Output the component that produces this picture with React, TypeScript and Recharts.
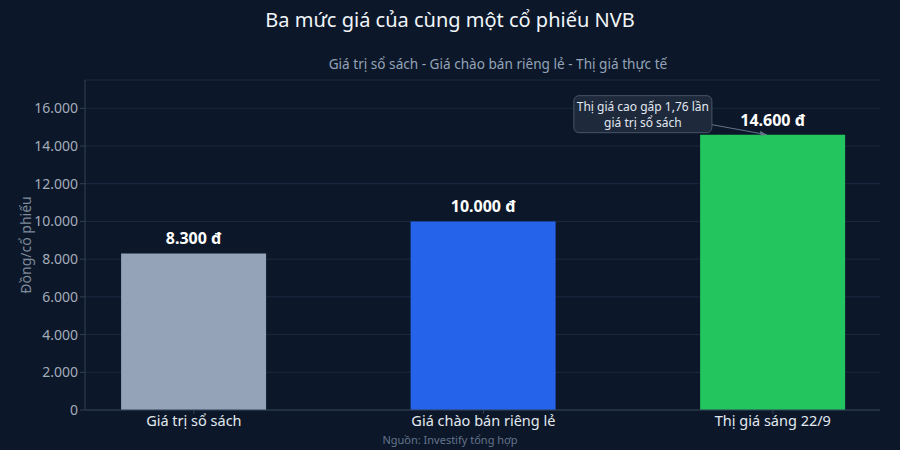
import { BarChart, Bar, XAxis, YAxis, CartesianGrid, LabelList, ReferenceDot, Cell } from "recharts";

const categories = ["Giá trị sổ sách", "Giá chào bán riêng lẻ", "Thị giá sáng 22/9"];
const prices = [8300, 10000, 14600];
const barColors = ["#94a3b8", "#2563eb", "#22c55e"];
const yTicks = [0, 2000, 4000, 6000, 8000, 10000, 12000, 14000, 16000];
const noteLines = ["Thị giá cao gấp 1,76 lần", "giá trị sổ sách"];

const BG = "#0c1829";
const FONT = "'Noto Sans', 'Open Sans', sans-serif";

const fmt = (v: number) => String(v).replace(/\B(?=(\d{3})+(?!\d))/g, ".");

const data = categories.map((c, i) => ({ idx: i, name: c, price: prices[i] }));

function Note(props: any) {
  const { cx, cy } = props;
  if (cx == null || cy == null) return null;
  const tipX = cx - 6;
  const tipY = cy;
  const bx = cx - 199;
  const by = cy - 39;
  const bw = 138;
  const bh = 37;
  return (
    <g>
      <line x1={bx + bw} y1={by + bh - 8} x2={tipX} y2={tipY} stroke="#64748b" strokeWidth={1} />
      <path d={`M${tipX} ${tipY} l-7 -4 l1 5 z`} fill="#64748b" />
      <rect x={bx} y={by} width={bw} height={bh} rx={5} fill="#1e293b" stroke="#475569" strokeWidth={1} />
      {noteLines.map((t, i) => (
        <text key={i} x={bx + bw / 2} y={by + 15 + i * 16} textAnchor="middle" fill="#e2e8f0" fontSize={12} fontFamily={FONT}>
          {t}
        </text>
      ))}
    </g>
  );
}

export default function App() {
  return (
    <div style={{ position: "relative", width: 900, height: 450, background: BG, fontFamily: FONT }}>
      <style>{"body{margin:0;background:" + BG + "}"}</style>
      <div style={{ position: "absolute", top: 6, width: 900, textAlign: "center", color: "#f1f5f9", fontSize: 20 }}>
        Ba mức giá của cùng một cổ phiếu NVB
      </div>
      <div style={{ position: "absolute", top: 54, left: 48, width: 900, textAlign: "center", color: "#94a3b8", fontSize: 13.6 }}>
        Giá trị sổ sách - Giá chào bán riêng lẻ - Thị giá thực tế
      </div>
      <div style={{ position: "absolute", top: 432, width: 900, textAlign: "center", color: "#64748b", fontSize: 11 }}>
        Nguồn: Investify tổng hợp
      </div>
      <BarChart
        width={900}
        height={450}
        data={data}
        margin={{ top: 80, right: 20, bottom: 0, left: 25 }}
        style={{ position: "absolute", top: 0, left: 0 }}
      >
        <CartesianGrid vertical={false} stroke="#1b2940" />
        <XAxis
          type="number"
          dataKey="idx"
          domain={[-0.376, 2.37]}
          ticks={[0, 1, 2]}
          allowDataOverflow
          tickFormatter={(v: number) => categories[v] ?? ""}
          height={40}
          stroke="#334155"
          tickSize={4}
          tick={{ fill: "#e2e8f0", fontSize: 14.5, fontFamily: FONT }}
        />
        <YAxis
          domain={[0, 17500]}
          ticks={yTicks}
          tickFormatter={fmt}
          width={60}
          stroke="#334155"
          tickSize={5}
          tick={{ fill: "#a3acb9", fontSize: 14, fontFamily: FONT }}
          label={{ value: "Đồng/cổ phiếu", angle: -90, position: "insideLeft", offset: 1, fill: "#7f8a9b", fontSize: 14, fontFamily: FONT, style: { textAnchor: "middle" } }}
        />
        <Bar dataKey="price" barSize={145} isAnimationActive={false}>
          {data.map((d, i) => (
            <Cell key={d.name} fill={barColors[i]} />
          ))}
          <LabelList
            dataKey="price"
            position="top"
            offset={9}
            formatter={(v: any) => `${fmt(Number(v))} đ`}
            style={{ fill: "#ffffff", fontSize: 16, fontWeight: 700, fontFamily: FONT }}
          />
        </Bar>
        <ReferenceDot x={2} y={prices[2]} r={0} shape={(p: any) => <Note {...p} />} ifOverflow="visible" />
      </BarChart>
    </div>
  );
}
